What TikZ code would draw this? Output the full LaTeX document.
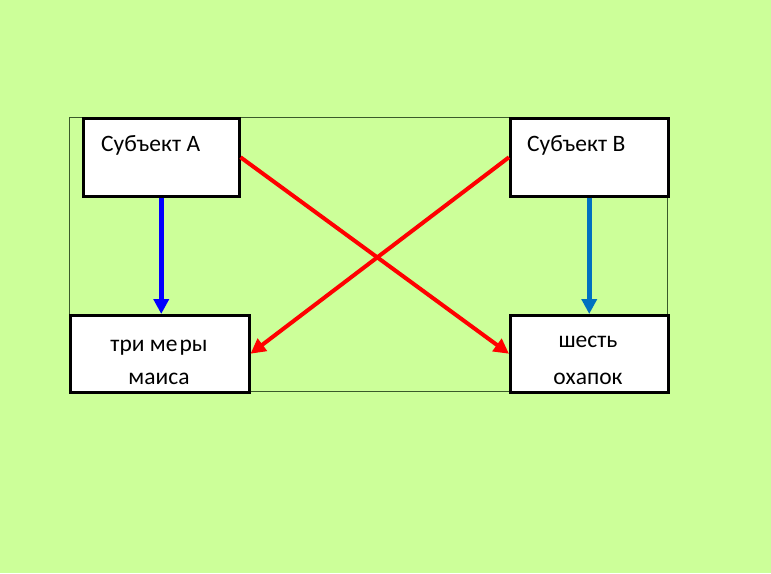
\documentclass[tikz,border=0pt]{standalone}
\usepackage{fontspec}
\setmainfont{Carlito}
\usetikzlibrary{arrows.meta}
\definecolor{bg}{HTML}{CCFF99}
\definecolor{frameline}{HTML}{3A5A2A}
\definecolor{blueA}{HTML}{0000FF}
\definecolor{blueB}{HTML}{0070C0}
\definecolor{redx}{HTML}{FF0000}
\begin{document}
\begin{tikzpicture}[x=1pt,y=-1pt,
  box/.style={draw=black,line width=2.5pt,fill=white,inner sep=0pt,anchor=north west},
  lbl/.style={font=\fontsize{23.5}{28}\selectfont,inner sep=0pt,anchor=base},
  arr/.style={line width=4.5pt,-{Triangle[width=15pt,length=15pt]}}]
\fill[bg] (0,0) rectangle (771,573);
\useasboundingbox (0,0) rectangle (771,573);
\node[draw=frameline,line width=0.8pt,inner sep=0pt,anchor=north west,minimum width=598pt,minimum height=274pt] (frame) at (69,117) {};
\node[box,minimum width=156pt,minimum height=78pt] (A) at (82,117) {};
\node[box,minimum width=158pt,minimum height=78pt] (B) at (509,117) {};
\node[box,minimum width=179pt,minimum height=77pt] (C) at (69,314) {};
\node[box,minimum width=158pt,minimum height=77pt] (D) at (509,314) {};
\node[lbl,anchor=base west] (tA) at (101,151) {Субъект А};
\node[lbl,anchor=base west] (tB) at (527,151) {Субъект В};
\node[lbl] (tC1) at (159,351) {три ме\kern2pt ры};
\node[lbl] (tC2) at (159,384) {маиса};
\node[lbl] (tD1) at (588,347) {шесть};
\node[lbl] (tD2) at (588,384) {охапок};
\draw[arr,blueA] (A.south) -- (A.south |- C.north);
\draw[arr,blueB] (B.south) -- (B.south |- D.north);
\draw[arr,redx,line width=4pt] (A.east) -- (D.west);
\draw[arr,redx,line width=4pt] (B.west) -- (C.east);
\end{tikzpicture}
\end{document}
